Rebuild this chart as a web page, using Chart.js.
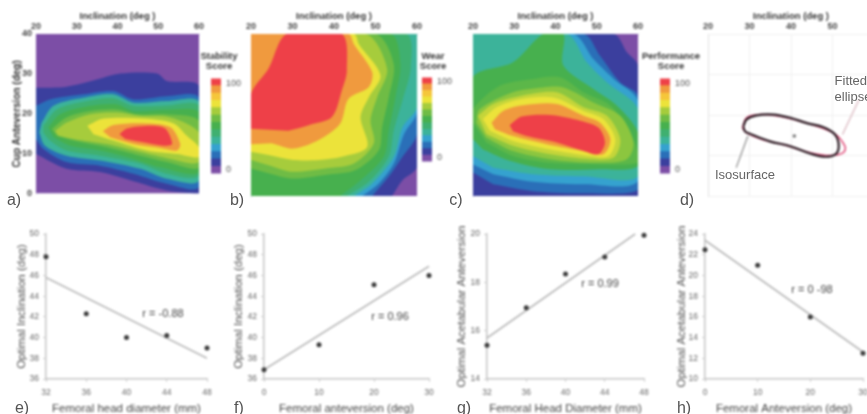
<!DOCTYPE html>
<html><head><meta charset="utf-8">
<script src="https://cdn.jsdelivr.net/npm/chart.js@4"></script>
<style>
html,body{margin:0;padding:0;background:#fff;width:867px;height:414px;overflow:hidden}
#stage{position:relative;width:867px;height:414px;overflow:hidden;font-family:"Liberation Sans",Arial,sans-serif}
canvas{position:absolute;filter:blur(.85px)}
.t{position:absolute;white-space:pre;line-height:1;transform:translate(-50%,-50%)}
.l{font-size:16px;color:#555;filter:blur(.3px)}
.r{font-size:11px;color:#444;filter:blur(.8px)}
.n{font-size:13px;color:#666;text-align:left;line-height:15.5px;filter:blur(.3px)}
.s{font-size:9.5px;font-weight:bold;color:#333;text-align:center;line-height:10px;filter:blur(.8px)}
</style></head><body><div id="stage"></div>
<script>
// ---- palette of the score bands, lowest to highest
const PURPLE='#7c4ea6',DARK='#3b3f9e',BLUE='#2a6fb8',LIGHT='#35a2cf',TEAL='#3cb39a',G1='#3fb070',G2='#47b04e',G3='#6fbc45',LIME='#a6cc3c',YEL='#ece33a',GOLD='#f5c63a',ORG='#f09a3e',RED='#ee4048';
const G2B='#5cb749',G3B='#8cc63f',LIMEB='#c4d53a';
const barColors=[PURPLE,DARK,BLUE,LIGHT,TEAL,G1,G2,G3,LIME,YEL,GOLD,ORG,RED];
const barEdges=[-5,3.5,12.1,20.6,29.2,37.7,46.2,54.8,63.3,71.9,80.4,88.9,97.5,106];
const barTicks=[0,100];
const incTicks=[20,30,40,50,60];
const anteTicks=[0,10,20,30,40];
const full=[[20,0],[60,0],[60,40],[20,40]];

// ---- panel a: stability score bands [inclination, anteversion]
const a1=[[20,26.5],[27.5,26.8],[34.9,28.6],[40.7,30.1],[49.7,30.1],[52.1,28.2],[60,26.9],[60,0],[52.1,.8],[43.9,3.1],[35.7,5.4],[27.5,6.2],[20,9.9]];
const a2=[[20,22],[23.4,23.6],[31.6,24.9],[39,25.7],[43.9,23.6],[52.1,24.4],[60,24],[60,1.7],[52.1,2.5],[43.9,5],[35.7,7],[27.5,7.9],[21.8,11.2],[20,13.7]];
const a3=[[21.4,17.8],[24.3,22],[31.6,24],[39,24.9],[43.9,22.8],[52.1,23.2],[60,23],[60,3.3],[52.1,3.7],[45.6,6.2],[35.7,8.3],[27.5,9.5],[22.2,12],[20.8,15.3]];
const a4=[[21.8,17],[25.1,21.1],[32.5,23.2],[39,23.9],[43.9,22],[52.1,22.1],[60,22],[60,4.6],[52.1,5],[45.6,7.5],[35.7,9.5],[27.5,10.8],[23.4,13.3],[21.8,15.3]];
const a5=[[23,16.6],[25.9,19.9],[33.3,22],[39.8,22.4],[43.9,20.7],[52.1,21],[60,20.3],[60,5.4],[50.5,6.6],[43.9,8.7],[35.7,10.8],[28.4,12],[24.3,14.1]];
const a6=[[23.9,16.2],[27.5,19.1],[33.3,20.7],[39.8,21.1],[44.8,19.9],[52.1,19.9],[60,18.2],[60,6.6],[52.1,7.9],[45.6,9.5],[37.4,11.6],[29.2,13.3],[25.1,14.5]];
const a7=[[24.7,15.7],[27.5,17.8],[33.3,19.9],[39.8,20.3],[45.6,19.5],[53,19.1],[60,15.3],[60,7.9],[53,8.7],[45.6,10.4],[37.4,12.4],[29.2,13.7],[25.5,14.5]];
const a8=[[32.6,17],[36.6,18.8],[46.4,18.8],[53.8,17.6],[57,14.5],[60,11.6],[60,9.1],[54.6,9.9],[47.2,10.8],[39,13.3],[34.1,14.9]];
const a9=[[36.4,15.7],[39,17.2],[47.2,17.6],[53,16.6],[55.4,12.4],[54.6,10.8],[50.5,11.4],[43.9,12.4],[38.2,14.1]];
const a10=[[40.5,14.9],[42.3,16.3],[48,17],[51.7,16.3],[53.4,12.4],[51.3,12],[45.6,13],[41.9,13.7]];

// ---- panel b: wear score bands
const b1=[[20,0],[20,40],[60,40],[60,7.2],[56.5,3.9],[54,0]];
const b2=[[20,0],[20,40],[60,40],[60,15.4],[56.5,9.7],[53.2,4.8],[49.2,0]];
const b3=[[20,0],[20,40],[60,40],[60,20.7],[56.9,15.4],[54.4,8],[50.8,3.1],[46.8,0]];
const b4=[[20,0],[20,40],[60,40],[60,22],[56.5,17],[54.4,9.7],[49.2,3.1],[44.8,0]];
const b5=[[20,0],[20,40],[57.3,40],[58.5,31.8],[56.5,23.6],[54.4,16.2],[53.2,9.7],[48.4,3.5],[43.1,0]];
const b6=[[20,0],[20,40],[53.6,40],[56,32.6],[54.8,24.4],[53.2,16.2],[52,9.7],[46,3.5],[41.5,0]];
const b7=[[20,6.8],[20,40],[50,40],[54.4,32.6],[53.2,24.4],[51.6,17],[50.8,11.3],[45.2,6.4],[37.9,5.2],[29.8,4.3],[24.2,5.6]];
const b8=[[20,8.9],[20,40],[47.6,40],[52.8,31.4],[50.4,24.4],[48.8,18.7],[49.6,13],[44.8,8],[37.9,6.8],[29.8,6],[24.2,7.6]];
const b9=[[20,10.9],[20,40],[44.8,40],[46,37.5],[51.2,29.8],[48.4,24.4],[46.4,19.5],[48,12.1],[41.9,9.7],[36.3,8.9],[30.2,8.9],[24.2,10.1]];
const b10=[[20,12.8],[20,40],[43.5,40],[44.8,37.5],[49.2,30.6],[48.4,26.9],[43.5,24],[41.5,17.9],[36.3,13.8],[30.2,11.7],[25,13]];
const b11=[[20,16.6],[20,25.2],[24.2,31.4],[28.6,40],[41.9,40],[43.1,31],[41.9,26.1],[39.5,19.5],[33.9,17.5],[29,16.1]];

// ---- panel c: performance score bands
const c1=[[20,0],[20,40],[54.1,40],[57.3,35.5],[60,32.2],[60,0]];
const c2=[[20,5.8],[20,40],[46.8,40],[50.8,34.6],[55.7,28],[60,24.7],[60,1.6],[46.8,.7],[34.6,1.2],[24.9,2.9]];
const c3=[[20,7.8],[20,40],[44.3,40],[49.2,33.8],[54.1,28.9],[60,23.5],[60,3.7],[46.8,2.9],[34.6,3.5],[24.9,5.4]];
const c4=[[20,9.9],[20,40],[42.7,40],[47.6,33],[52.5,28],[60,21.4],[60,4.9],[46.8,4.9],[34.6,5.4],[24.9,7]];
const c5=[[20,14],[20,29.3],[29.7,33],[37,40],[41.9,40],[41.9,32.2],[49.2,26.4],[54.9,22.3],[60,15.7],[60,7.4],[50.8,6.6],[38.7,6.6],[28.9,8.7],[22.4,11.5]];
const c6=[[20,18.1],[20,21.4],[26.5,27.2],[34.6,28.9],[41.1,29.3],[46.8,25.6],[53.3,22.3],[58.1,15.7],[60,10.7],[60,8.2],[50.8,7.8],[38.7,8.2],[29.7,9.9],[23.2,13.2]];
const c7=[[20.8,18.1],[21.6,21.4],[29.7,25.6],[37,26.8],[41.9,26.8],[49.2,23.1],[55.7,19.8],[58.9,13.2],[57.3,9.1],[50,8.2],[38.7,9.1],[29.7,11.1],[23.2,14.4]];
const c8=[[21.2,19.8],[24.9,22.7],[31.4,24.7],[40.3,25.6],[46.8,21.9],[52.5,19.8],[55.7,14],[54.1,9.5],[48.4,9.1],[38.7,10.3],[29.7,12.4],[23.2,15.3]];
const c9=[[22.4,19],[25.7,21.9],[31.4,23.9],[39.5,24.3],[46.8,21],[51.6,19],[54.5,14],[52.9,9.9],[48.4,9.9],[38.7,11.5],[29.7,13.6],[24.1,16.1]];
const c10=[[24.5,18.1],[27.3,21],[32.2,22.4],[40.3,22.7],[46.8,19.8],[50.8,18.1],[53.3,14],[51.6,10.3],[46.8,11.1],[37.9,12.8],[29.7,14.8],[25.3,16.5]];
const c11=[[28.9,17.5],[31.8,19.6],[38.7,20],[46,18.6],[50.4,16.9],[52,13.2],[50.4,10.3],[46.8,11.1],[40.3,13.2],[33,14.8],[29.7,16]];

// ---- panel d: isosurface, fitted ellipse, centre, leaders
const isoSurface=[[28.5,17.2],[29.3,18.9],[31.7,19.9],[35.7,20.1],[39.8,19.3],[43.8,18],[47.8,17],[50.6,15.2],[51.5,12.3],[50.6,10.2],[47.8,9.7],[44.6,10.5],[39.8,12.3],[34.9,13.5],[30.5,15.2],[28.9,16],[28.5,17.2]];
const fitEllipse=[[28.3,16.8],[29.3,19.3],[32.5,20.1],[37.3,19.7],[43.8,18],[50.2,15.6],[53,12.3],[52.6,10.7],[49.4,10],[44.6,10.7],[38.9,12.5],[33.3,13.9],[29.3,15.6],[28.3,16.8]];
const centre=[[40.8,14.8]];
const leaderIso=[[29.6,14.8],[26.8,7]];
const leaderFit=[[56.4,23.8],[52.4,15.2]];

// ---- scatter panels
const headDia=[32,36,40,44,48];
const femAnte=[0,10,20,30];
const eVals=[47.8,42.3,40,40.2,39];
const eFit=[[32,45.8],[48,38]];
const fVals=[36.9,39.3,45.1,46];
const fFit=[[0,36.9],[30,46.9]];
const gVals=[15.4,16.95,18.35,19.05,19.95];
const gFit=[[32,15.7],[47.1,20]];
const hVals=[22.5,21,16,12.5];
const hFit=[[0,23.4],[30,12.6]];

const stage=document.getElementById('stage');
const FF='"Liberation Sans",Arial,sans-serif';
const xy=p=>p.map(q=>({x:q[0],y:q[1]}));
// fills each band's closed outline, using the line element the library built from the scales
const bandFill={id:'bandFill',beforeDatasetDraw(chart,args){
  const ds=chart.data.datasets[args.index];
  if(!ds.bandColor)return;
  const line=args.meta.dataset,ctx=chart.ctx,a=chart.chartArea;
  line.updateControlPoints(a);
  ctx.save();ctx.beginPath();ctx.rect(a.left,a.top,a.width,a.height);ctx.clip();
  ctx.beginPath();line.path(ctx);ctx.closePath();ctx.fillStyle=ds.bandColor;ctx.fill();ctx.restore();
}};
function mk(left,top,w,h,cfg){
  const c=document.createElement('canvas');
  c.style.left=left+'px';c.style.top=top+'px';c.style.width=w+'px';c.style.height=h+'px';
  c.width=w;c.height=h;stage.appendChild(c);
  cfg.options.responsive=false;cfg.options.animation=false;
  cfg.options.plugins=Object.assign({legend:{display:false},tooltip:{enabled:false}},cfg.options.plugins||{});
  cfg.plugins=[bandFill];
  return new Chart(c,cfg);
}
function txt(cls,x,y,s){const d=document.createElement('div');d.className='t '+cls;d.style.left=x+'px';d.style.top=y+'px';d.textContent=s;stage.appendChild(d);}

function topPanel(x0,x1,datasets,yOpts,gridOn){
  const W=yOpts.W,H=30,pw=x1-x0,ph=162,yt=34;
  return mk(x0-W,yt-H,W+pw+14,H+ph+7,{type:'scatter',data:{datasets},options:{
    layout:{padding:{right:14,bottom:7}},
    scales:{
      x:{type:'linear',position:'top',min:20,max:60,afterFit(s){s.height=H;},
        afterBuildTicks(s){s.ticks=incTicks.map(v=>({value:v}));},
        border:{display:!gridOn,color:'#c4c0dc',width:1},
        grid:{drawOnChartArea:gridOn,color:'#f0f0f0',drawTicks:false},
        ticks:{padding:2,color:'#444',maxRotation:0,font:{family:FF,size:9,weight:'bold'}},
        title:{display:true,text:'Inclination (deg )',color:'#333',padding:{top:7,bottom:0},font:{family:FF,size:9.5,weight:'bold'}}},
      y:{type:'linear',min:0,max:40,afterFit(s){s.width=W;},
        afterBuildTicks(s){s.ticks=anteTicks.map(v=>({value:v}));},
        border:{color:gridOn?'#e2e2e2':'#c4c0dc',width:1},
        grid:{drawOnChartArea:gridOn,color:'#f0f0f0',drawTicks:false},
        ticks:{display:!!yOpts.title,padding:4,color:'#444',font:{family:FF,size:9,weight:'bold'}},
        title:{display:!!yOpts.title,text:yOpts.title||'',color:'#333',padding:{top:5,bottom:0},font:{family:FF,size:10,weight:'bold'}}}
    }}});
}
function bands(list){
  return list.map((b,i)=>({data:xy(b[0]),showLine:true,bandColor:b[1],tension:.3,borderColor:b[1],borderWidth:0,pointRadius:0,order:list.length-i}));
}
function colorBar(x,top,bottom){
  const pw=10,R=28;
  mk(x,top-11,pw+R,bottom-top+22,{type:'bar',data:{labels:['score'],datasets:barColors.map((col,i)=>({data:[[barEdges[i],barEdges[i+1]]],backgroundColor:col,barPercentage:1,categoryPercentage:1,grouped:false}))},
    options:{layout:{padding:{top:6,bottom:6,right:0}},scales:{
      x:{display:false},
      y:{position:'right',min:-5,max:106,afterFit(s){s.width=R;},afterBuildTicks(s){s.ticks=barTicks.map(v=>({value:v}));},
        border:{display:false},grid:{display:false,drawTicks:false},ticks:{padding:5,color:'#555',font:{family:FF,size:9}}}}}});
}
topPanel(36,199,bands([[full,PURPLE],[a1,DARK],[a2,BLUE],[a3,TEAL],[a4,G1],[a5,G2],[a6,G3],[a7,LIME],[a8,YEL],[a9,ORG],[a10,RED]]),{W:30,title:'Cup Anteversion (deg)'},false);
topPanel(251,417,bands([[full,PURPLE],[b1,DARK],[b2,BLUE],[b3,LIGHT],[b4,TEAL],[b5,G1],[b6,G2],[b7,G3],[b8,LIME],[b9,YEL],[b10,ORG],[b11,RED]]),{W:14},false);
topPanel(473,638,bands([[full,PURPLE],[c1,DARK],[c2,BLUE],[c3,LIGHT],[c4,TEAL],[c5,G2],[c6,G2B],[c7,G3B],[c8,LIMEB],[c9,YEL],[c10,ORG],[c11,RED]]),{W:14},false);
topPanel(708,874,[
  {data:xy(isoSurface),showLine:true,tension:.35,borderColor:'#2a1a22',borderWidth:2.2,pointRadius:0,order:1},
  {data:xy(fitEllipse),showLine:true,tension:.35,borderColor:'#e0507c',borderWidth:1.6,pointRadius:0,order:2},
  {data:xy(centre),pointRadius:1.8,backgroundColor:'#777',borderWidth:0,order:0},
  {data:xy(leaderIso),showLine:true,borderColor:'#8a8a8a',borderWidth:1.2,pointRadius:0,order:3},
  {data:xy(leaderFit),showLine:true,borderColor:'#d8b4bc',borderWidth:1.2,pointRadius:0,order:3}
],{W:14},true);
colorBar(211,79,173);
colorBar(422,78,161);
colorBar(660,79,173);

function scatterPanel(o){
  const W=o.x0-o.left,H=37,pw=o.x1-o.x0,ph=147,yt=232,pad=7;
  return mk(o.left,yt-pad,W+pw+14,pad+ph+H,{type:'scatter',data:{datasets:[
      {data:o.xs.map((x,i)=>({x,y:o.ys[i]})),pointRadius:2.5,backgroundColor:'#3c3c3c',borderWidth:0,clip:false,order:0},
      {data:xy(o.fit),showLine:true,borderColor:'#bcbcbc',borderWidth:1.8,pointRadius:0,clip:false,order:1}
    ]},options:{layout:{padding:{top:pad,right:14}},scales:{
      x:{type:'linear',min:o.xs[0],max:o.xs[o.xs.length-1],afterFit(s){s.height=H;},
        afterBuildTicks(s){s.ticks=o.xs.map(v=>({value:v}));},
        border:{color:'#c4c4c4',width:1.5},grid:{drawOnChartArea:false,color:'#cccccc',tickLength:3},
        ticks:{padding:6,color:'#666',maxRotation:0,font:{family:FF,size:8.5}},
        title:{display:true,text:o.xTitle,color:'#444',padding:{top:0,bottom:0},font:{family:FF,size:11.5}}},
      y:{type:'linear',min:o.yMin,max:o.yMax,afterFit(s){s.width=W;},
        afterBuildTicks(s){s.ticks=o.yTicks.map(v=>({value:v}));},
        border:{color:'#c4c4c4',width:1.5},grid:{drawOnChartArea:false,color:'#cccccc',tickLength:3},
        ticks:{padding:4,color:'#666',font:{family:FF,size:8.5}},
        title:{display:true,text:o.yTitle,color:'#555',padding:{top:5,bottom:0},font:{family:FF,size:11.5}}}
    }}});
}
const t36=[36,38,40,42,44,46,48,50];
scatterPanel({left:10,x0:46,x1:207,xs:headDia,ys:eVals,fit:eFit,yMin:36,yMax:50,yTicks:t36,xTitle:'Femoral head diameter (mm)',yTitle:'Optimal Inclination (deg)'});
scatterPanel({left:227,x0:264,x1:429,xs:femAnte,ys:fVals,fit:fFit,yMin:36,yMax:50,yTicks:t36,xTitle:'Femoral anteversion (deg)',yTitle:'Optimal Inclination (deg)'});
scatterPanel({left:450,x0:487,x1:644,xs:headDia,ys:gVals,fit:gFit,yMin:14,yMax:20,yTicks:[14,16,18,20],xTitle:'Femoral Head Diameter (mm)',yTitle:'Optimal Acetabular Anteversion'});
scatterPanel({left:670,x0:705,x1:863,xs:femAnte,ys:hVals,fit:hFit,yMin:10,yMax:24,yTicks:[10,12,14,16,18,20,22,24],xTitle:'Femoral Anteversion (deg)',yTitle:'Optimal Acetabular Anteversion'});

txt('r',163,313,'r = -0.88');txt('r',390,316,'r = 0.96');txt('r',600,283,'r = 0.99');txt('r',812,289,'r = 0 -98');
txt('l',14,200,'a)');txt('l',237,200,'b)');txt('l',456,200,'c)');txt('l',687,200,'d)');
txt('l',22,408,'e)');txt('l',239,408,'f)');txt('l',464,408,'g)');txt('l',684,408,'h)');
txt('n',853,88,'Fitted\nellipse');txt('n',745,175,'Isosurface');
txt('s',219,61,'Stability\nScore');txt('s',433,61,'Wear\nScore');txt('s',671,61,'Performance\nScore');
</script></body></html>
